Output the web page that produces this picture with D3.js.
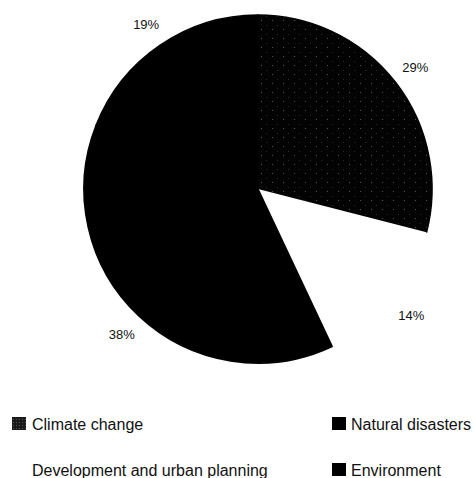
<!DOCTYPE html>
<html>
<head>
<meta charset="utf-8">
<script src="https://cdn.jsdelivr.net/npm/d3@7"></script>
<style>
  html, body { margin: 0; padding: 0; background: #fff; }
  svg { display: block; }
  text { font-family: "Liberation Sans", Arial, sans-serif; fill: #111; }
</style>
</head>
<body>
<svg id="chart" width="474" height="478"></svg>
<script>
// Share of projects by theme
const categories = ["Climate change", "Development and urban planning", "Natural disasters", "Environment"];
const shares = [29, 14, 38, 19];
const fills = ["url(#grain)", "#ffffff", "#000000", "#000000"];
const edges = ["#030303", "none", "#000000", "#000000"];
const legendCols = [0, 0, 1, 1];
const legendRows = [0, 1, 0, 1];

const cx = 258, cy = 189, R = 174, labelR = 199;

const svg = d3.select("#chart");

// speckled near-black fill for the climate change slice
const defs = svg.append("defs");
const pat = defs.append("pattern")
  .attr("id", "grain")
  .attr("patternUnits", "userSpaceOnUse")
  .attr("width", 11).attr("height", 9);
pat.append("rect").attr("width", 11).attr("height", 9).attr("fill", "#030303");
pat.append("rect").attr("x", 3).attr("y", 2).attr("width", 1).attr("height", 1).attr("fill", "#555");
pat.append("rect").attr("x", 8).attr("y", 7).attr("width", 1).attr("height", 1).attr("fill", "#2a2a2a");

// denser grain for the small legend swatch
const pat2 = defs.append("pattern")
  .attr("id", "grainKey")
  .attr("patternUnits", "userSpaceOnUse")
  .attr("width", 3).attr("height", 3);
pat2.append("rect").attr("width", 3).attr("height", 3).attr("fill", "#1a1a1a");
pat2.append("rect").attr("x", 1).attr("y", 1).attr("width", 1).attr("height", 1).attr("fill", "#555");

const data = categories.map((c, i) => ({ name: c, value: shares[i], fill: fills[i], edge: edges[i] }));

const pie = d3.pie().value(d => d.value).sort(null);
const arcs = pie(data);
const arc = d3.arc().innerRadius(0).outerRadius(R);
const labelArc = d3.arc().innerRadius(labelR).outerRadius(labelR);

const g = svg.append("g").attr("transform", `translate(${cx},${cy})`);

g.selectAll("path.slice")
  .data(arcs)
  .join("path")
  .attr("class", "slice")
  .attr("d", arc)
  .attr("fill", d => d.data.fill)
  .attr("stroke", d => d.data.edge)
  .attr("stroke-width", 1.6)
  .attr("stroke-linejoin", "round");

g.selectAll("text.pct")
  .data(arcs)
  .join("text")
  .attr("class", "pct")
  .attr("transform", d => {
    const [x, y] = labelArc.centroid(d);
    return `translate(${x},${y})`;
  })
  .attr("text-anchor", "middle")
  .attr("dy", "0.35em")
  .style("font-size", "13px")
  .text(d => d.data.value + "%");

// Legend: two columns, two rows
const colX = d3.scaleOrdinal().domain([0, 1]).range([12, 332]);
const rowY = d3.scaleOrdinal().domain([0, 1]).range([430, 476]);

const leg = svg.append("g").selectAll("g.item")
  .data(data)
  .join("g")
  .attr("class", "item")
  .attr("transform", (d, i) => `translate(${colX(legendCols[i])},${rowY(legendRows[i])})`);

leg.append("rect")
  .attr("x", 0).attr("y", -13)
  .attr("width", 14)
  .attr("height", 13)
  .attr("fill", (d, i) => i === 0 ? "url(#grainKey)" : d.fill);

leg.append("text")
  .attr("x", (d, i) => legendCols[i] === 0 ? 20 : 19)
  .attr("y", 0)
  .style("font-size", "16px")
  .text(d => d.name);
</script>
</body>
</html>
